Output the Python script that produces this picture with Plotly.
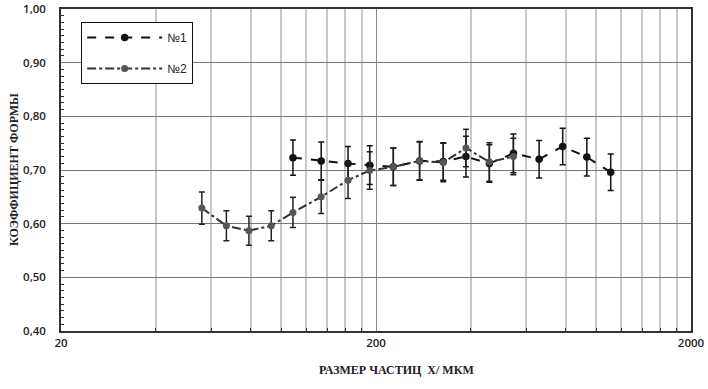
import plotly.graph_objects as go

# ---- data ----
x1 = [109, 134, 163, 191, 227, 275, 327, 386, 458, 546, 659, 783, 934, 1112]
y1 = [0.723, 0.717, 0.712, 0.709, 0.706, 0.717, 0.716, 0.725, 0.712, 0.731, 0.720, 0.744, 0.724, 0.696]
e1 = [0.033, 0.035, 0.032, 0.036, 0.035, 0.036, 0.035, 0.038, 0.035, 0.036, 0.035, 0.034, 0.035, 0.034]

x2 = [56, 67, 79, 93, 109, 134, 163, 191, 227, 275, 327, 386, 458, 546]
y2 = [0.629, 0.596, 0.587, 0.596, 0.621, 0.650, 0.681, 0.699, 0.706, 0.717, 0.714, 0.741, 0.715, 0.725]
e2 = [0.030, 0.028, 0.027, 0.028, 0.028, 0.031, 0.034, 0.035, 0.035, 0.035, 0.036, 0.035, 0.036, 0.034]

names = ["№1", "№2"]
x_major = [20, 200, 2000]
x_minor = [40, 60, 80, 100, 120, 140, 160, 180, 400, 600, 800, 1000, 1200, 1400, 1600, 1800]
x_title = "РАЗМЕР ЧАСТИЦ  X/ МКМ"
y_title = "КОЭФФИЦИЕНТ ФОРМЫ"

fig = go.Figure()
fig.add_trace(go.Scatter(
    x=x1, y=y1, name=names[0], mode="lines+markers", legendgroup="a",
    line=dict(color="#111111", width=2, dash="dash"),
    marker=dict(color="#111111", size=7.5),
    error_y=dict(type="data", array=e1, color="#111111", thickness=1.5, width=3),
))
fig.add_trace(go.Scatter(
    x=x2, y=y2, name=names[1], mode="lines+markers", legendgroup="b",
    line=dict(color="#333333", width=2, dash="dashdot"),
    marker=dict(color="#555555", size=7),
    error_y=dict(type="data", array=e2, color="#222222", thickness=1.5, width=3),
))

tickfont = dict(family="Open Sans", size=11.5, color="#222222", weight=600)

fig.update_layout(
    width=708, height=389,
    margin=dict(l=61, r=17, t=9, b=58),
    paper_bgcolor="white", plot_bgcolor="white",
    separators=", ",
    showlegend=True,
    legend=dict(
        x=0.032, y=0.96, xanchor="left", yanchor="top",
        bgcolor="white", bordercolor="#111111", borderwidth=1,
        font=dict(family="Arial", size=12, color="#222222"),
        traceorder="grouped", tracegroupgap=12, itemwidth=75,
    ),
    xaxis=dict(
        type="log", range=[1.30103, 3.30103],
        tickmode="array", tickvals=x_major, ticktext=[str(v) for v in x_major],
        showgrid=True, gridcolor="#888888", gridwidth=1,
        showline=True, linecolor="#333333", linewidth=1.5, mirror=True,
        ticks="", tickfont=tickfont, automargin=False, ticklabeloverflow="allow",
        minor=dict(tickmode="array", tickvals=x_minor, showgrid=True,
                   gridcolor="#c8c8c8", gridwidth=2,
                   ticks="inside", ticklen=3, tickcolor="#333333"),
        zeroline=False,
    ),
    yaxis=dict(
        range=[0.4, 1.0], tickmode="linear", tick0=0.4, dtick=0.1,
        tickformat=".2f",
        showgrid=True, gridcolor="#777777", gridwidth=1,
        showline=True, linecolor="#333333", linewidth=1.5, mirror=True,
        ticks="", tickfont=tickfont, ticklabelstandoff=11, automargin=False,
        ticklabeloverflow="allow",
        minor=dict(dtick=0.0125, tick0=0.4, ticks="inside", ticklen=3,
                   tickcolor="#333333", showgrid=False),
        zeroline=False,
    ),
    annotations=[
        dict(text=y_title, xref="paper", yref="paper", x=-0.0746, y=0.5,
             xanchor="center", yanchor="middle", textangle=-90, showarrow=False,
             font=dict(family="Liberation Serif", size=12, color="#222222", weight="bold")),
        dict(text=x_title, xref="paper", yref="paper", x=0.532, y=-0.12,
             xanchor="center", yanchor="middle", showarrow=False,
             font=dict(family="Liberation Serif", size=12, color="#222222", weight="bold")),
    ],
)

fig.write_html("out.html", config={"displayModeBar": False},
               post_script="document.body.style.margin='0';")
